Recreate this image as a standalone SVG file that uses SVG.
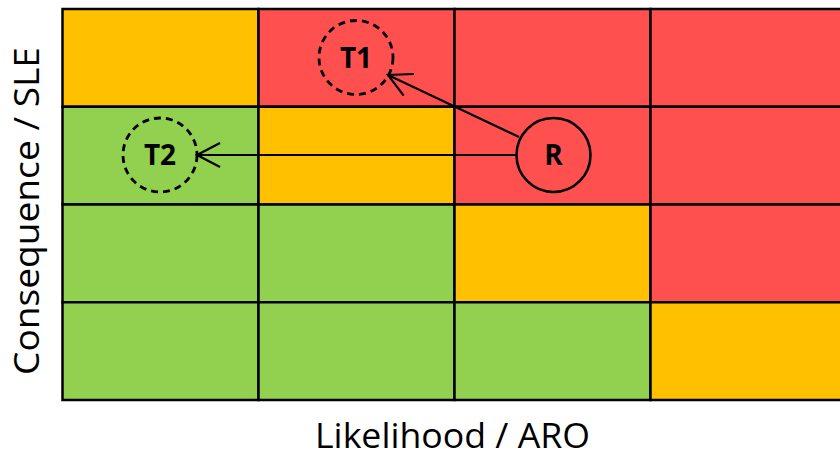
<svg xmlns="http://www.w3.org/2000/svg" width="840" height="457" viewBox="0 0 840 457">
  <style>
    .cell { stroke: #000; stroke-width: 2.5; }
    .hi { fill: #FF5050; }
    .mid { fill: #FFC000; }
    .lo { fill: #92D050; }
    .node { fill: none; stroke: #000; stroke-width: 2.6; }
    .target { stroke-width: 2.8; stroke-dasharray: 7 5; }
    .node-label { font-family: "Open Sans", "Liberation Sans", sans-serif; font-weight: bold; font-size: 28px; fill: #000; text-anchor: middle; }
    .axis { font-family: "Open Sans", "Liberation Sans", sans-serif; font-size: 34px; fill: #000; text-anchor: middle; }
    .edge { fill: none; stroke: #000; stroke-width: 2.2; marker-end: url(#open-arrow); }
  </style>
  <defs>
    <marker id="open-arrow" markerUnits="userSpaceOnUse" viewBox="-26 -14 28 28" refX="0" refY="0" markerWidth="28" markerHeight="28" orient="auto">
      <path d="M -23 -12 L 0 0 L -23 12" fill="none" stroke="#000" stroke-width="2.2"/>
    </marker>
  </defs>

  <rect width="840" height="457" fill="#fff"/>

  <!-- risk matrix: 4 rows (consequence) x 4 columns (likelihood) -->
  <g id="matrix">
    <rect class="cell mid" x="62.5" y="9" width="196" height="97.75"/>
    <rect class="cell hi" x="258.5" y="9" width="196" height="97.75"/>
    <rect class="cell hi" x="454.5" y="9" width="196" height="97.75"/>
    <rect class="cell hi" x="650.5" y="9" width="196" height="97.75"/>

    <rect class="cell lo" x="62.5" y="106.75" width="196" height="97.75"/>
    <rect class="cell mid" x="258.5" y="106.75" width="196" height="97.75"/>
    <rect class="cell hi" x="454.5" y="106.75" width="196" height="97.75"/>
    <rect class="cell hi" x="650.5" y="106.75" width="196" height="97.75"/>

    <rect class="cell lo" x="62.5" y="204.5" width="196" height="97.75"/>
    <rect class="cell lo" x="258.5" y="204.5" width="196" height="97.75"/>
    <rect class="cell mid" x="454.5" y="204.5" width="196" height="97.75"/>
    <rect class="cell hi" x="650.5" y="204.5" width="196" height="97.75"/>

    <rect class="cell lo" x="62.5" y="302.25" width="196" height="97.75"/>
    <rect class="cell lo" x="258.5" y="302.25" width="196" height="97.75"/>
    <rect class="cell lo" x="454.5" y="302.25" width="196" height="97.75"/>
    <rect class="cell mid" x="650.5" y="302.25" width="196" height="97.75"/>
  </g>

  <!-- connectors -->
  <g id="connectors">
    <line class="edge" x1="519" y1="137" x2="388" y2="75"/>
    <line class="edge" x1="516" y1="155" x2="197" y2="155"/>
  </g>

  <!-- nodes -->
  <g id="T1">
    <circle class="node target" cx="356" cy="57.5" r="37"/>
    <text class="node-label" x="356" y="67.5">T1</text>
  </g>
  <g id="T2">
    <circle class="node target" cx="160" cy="155" r="37"/>
    <text class="node-label" x="160" y="165">T2</text>
  </g>
  <g id="R">
    <circle class="node" cx="553.5" cy="155" r="37"/>
    <text class="node-label" x="553.5" y="165">R</text>
  </g>

  <!-- axis titles -->
  <text class="axis" x="452.5" y="448" textLength="275" lengthAdjust="spacingAndGlyphs">Likelihood / ARO</text>
  <text class="axis" transform="translate(39,211) rotate(-90)" x="0" y="0" textLength="328" lengthAdjust="spacingAndGlyphs">Consequence / SLE</text>
</svg>
